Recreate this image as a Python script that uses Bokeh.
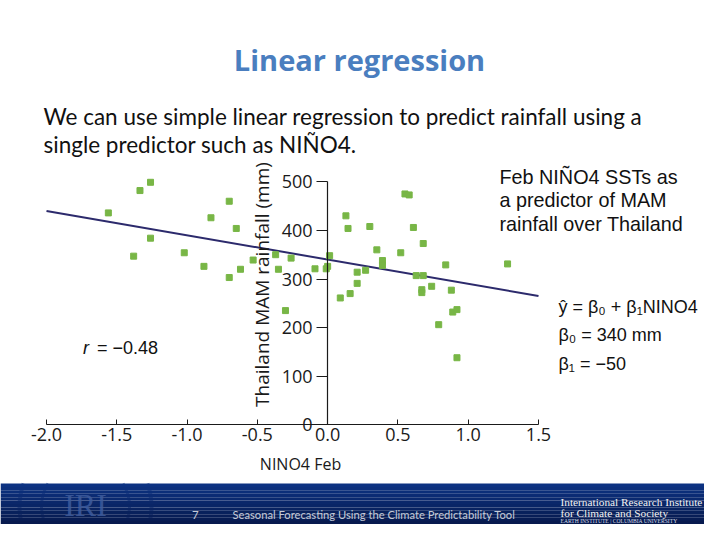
import math
from bokeh.plotting import figure
from bokeh.models import (Range1d, LinearAxis, FixedTicker, NumeralTickFormatter,
                          Label, BoxAnnotation)
from bokeh.embed import file_html
from bokeh.resources import INLINE

# ---------------- data ----------------
nino4_feb = [-1.56, -1.38, -1.335, -1.26, -1.26, -1.02, -0.88, -0.83, -0.70, -0.70,
             -0.65, -0.62, -0.53, -0.37, -0.35, -0.30, -0.26, -0.09, -0.01, 0.00,
             0.014, 0.09, 0.13, 0.145, 0.16, 0.21, 0.21, 0.27, 0.30, 0.35,
             0.39, 0.39, 0.52, 0.55, 0.58, 0.61, 0.63, 0.68, 0.68, 0.67,
             0.67, 0.74, 0.79, 0.84, 0.88, 0.89, 0.92, 0.92, 1.28]
rain_mam = [436, 347, 482, 499, 384, 354, 326, 426, 460, 303,
            404, 320, 339, 350, 320, 235, 343, 321, 321, 326,
            348, 261, 430, 404, 270, 314, 291, 318, 408, 360,
            338, 328, 354, 475, 473, 406, 307, 373, 307, 278,
            272, 285, 206, 329, 277, 232, 237, 138, 331]
beta0 = 340
beta1 = -50
r_value = -0.48
fit_x = [-2.0, 1.5]
x_ticks = [-2.0, -1.5, -1.0, -0.5, 0.0, 0.5, 1.0, 1.5]
y_ticks = [0, 100, 200, 300, 400, 500]

title_text = "Linear regression"
body_lines = ["We can use simple linear regression to predict rainfall using a",
              "single predictor such as NIÑO4."]
note_lines = ["Feb NIÑO4 SSTs as", "a predictor of MAM", "rainfall over Thailand"]
eq_lines = ["ŷ = β₀ + β₁NINO4", "β₀ = 340 mm", "β₁ = −50"]
x_title = "NINO4 Feb"
y_title = "Thailand MAM rainfall (mm)"

# ---------------- layout calibration ----------------
W, H = 704, 524
OX, OY = 0, 0
SX = (538 - 46) / 3.5           # px per x unit
SY = (424.3 - 181.3) / 500.0    # px per mm
XMIN = -2.0 - (46 - OX) / SX
XMAX = XMIN + W / SX
YMAX = 500 + (181.3 - OY) / SY
YMIN = YMAX - H / SY


def dx(X):
    return XMIN + (X - OX) / W * (XMAX - XMIN)


def dy(Y):
    return YMAX - (Y - OY) / H * (YMAX - YMIN)


p = figure(width=W, height=H, x_range=Range1d(XMIN, XMAX), y_range=Range1d(YMIN, YMAX),
           x_axis_type=None, y_axis_type=None, min_border=0,
           output_backend="svg", toolbar_location=None)
p.outline_line_color = None
p.background_fill_color = "white"
p.border_fill_color = "white"

TICK_FONT = "Open Sans"

xaxis = LinearAxis(fixed_location=0, bounds=(-2.0, 1.5),
                   ticker=FixedTicker(ticks=x_ticks),
                   formatter=NumeralTickFormatter(format="0.0"),
                   major_tick_in=5, major_tick_out=0,
                   minor_tick_in=0, minor_tick_out=0,
                   major_label_standoff=3,
                   major_label_text_font=TICK_FONT,
                   major_label_text_font_size="18px",
                   major_label_text_color="#1a1a1a",
                   axis_line_color="#1a1a1a", major_tick_line_color="#1a1a1a",
                   axis_line_width=1.2)
p.add_layout(xaxis, "below")

yaxis = LinearAxis(fixed_location=0, bounds=(0, 500),
                   ticker=FixedTicker(ticks=y_ticks),
                   major_tick_in=0, major_tick_out=11,
                   minor_tick_in=0, minor_tick_out=0,
                   major_label_standoff=4,
                   major_label_text_font=TICK_FONT,
                   major_label_text_font_size="18px",
                   major_label_text_color="#1a1a1a",
                   axis_line_color="#1a1a1a", major_tick_line_color="#1a1a1a",
                   axis_line_width=1.2)
p.add_layout(yaxis, "left")

# regression line from the coefficients
fit_y = [beta0 + beta1 * v for v in fit_x]
p.line(fit_x, fit_y, line_color="#2c2a6c", line_width=2)

# observations
p.scatter(nino4_feb, rain_mam, marker="square", size=6,
          fill_color="#78b646", line_color="#78b646")

# axis titles
p.add_layout(Label(x=dx(300), y=dy(463), text=x_title, text_align="center",
                   text_baseline="middle", text_font=TICK_FONT,
                   text_font_size="16px", text_color="#1a1a1a"))
p.add_layout(Label(x=dx(261), y=dy(284), text=y_title, angle=math.pi / 2,
                   text_align="center", text_baseline="middle", text_font=TICK_FONT,
                   text_font_size="19px", text_color="#1a1a1a"))

# r value
p.add_layout(Label(x=dx(82.5), y=dy(347.5), text="r", text_font="Liberation Sans",
                   text_font_style="italic", text_font_size="18px",
                   text_baseline="alphabetic", text_color="#111111"))
p.add_layout(Label(x=dx(96.5), y=dy(347.5), text="= \u2212%.2f" % abs(r_value),
                   text_font="Liberation Sans", text_font_size="18px",
                   text_baseline="alphabetic", text_color="#111111"))

# slide title and body
p.add_layout(Label(x=dx(359), y=dy(58.5), text=title_text, text_align="center",
                   text_baseline="alphabetic", text_font="Open Sans",
                   text_font_style="bold", text_font_size="29px", text_color="#4a7ebf"))
for i, line in enumerate(body_lines):
    p.add_layout(Label(x=dx(43), y=dy(116 + 27.5 * i), text=line,
                       text_baseline="alphabetic", text_font="Lato",
                       text_font_size="22.5px", text_color="#111111"))

# side note
for i, line in enumerate(note_lines):
    p.add_layout(Label(x=dx(499), y=dy(176 + 23.7 * i), text=line,
                       text_baseline="alphabetic", text_font="Liberation Sans",
                       text_font_size="19.8px", text_color="#111111"))

# equations
for i, line in enumerate(eq_lines):
    p.add_layout(Label(x=dx(558), y=dy(306.5 + 28.3 * i), text=line,
                       text_baseline="alphabetic", text_font="Liberation Sans",
                       text_font_size="18px", text_color="#111111"))

# ---------------- footer band ----------------
band_top = 483
band_bot = 524
n_strips = 12
c0 = (12, 50, 130)
c1 = (7, 26, 78)
for k in range(n_strips):
    t = k / (n_strips - 1)
    col = "#%02x%02x%02x" % tuple(int(round(a + (b - a) * t)) for a, b in zip(c0, c1))
    y_a = band_top + (band_bot - band_top) * k / n_strips
    y_b = band_top + (band_bot - band_top) * (k + 1) / n_strips
    p.add_layout(BoxAnnotation(left=XMIN, right=XMAX, top=dy(y_a), bottom=dy(y_b),
                               fill_color=col, fill_alpha=1.0, line_color=None))

# IRI logo (decoration)
lcx, lcy = 85, 506
cx, cy = dx(lcx), dy(lcy)
up_outer = math.asin((lcy - band_top) / 66)
up_inner = math.asin((lcy - band_top) / 44)
p.arc(x=[cx, cx], y=[cy, cy], radius=66, radius_units="screen",
      start_angle=[-math.pi / 2, math.pi - up_outer],
      end_angle=[up_outer, 1.5 * math.pi],
      line_color="#3e5c9e", line_width=4, line_alpha=0.7)
p.arc(x=[cx, cx], y=[cy, cy], radius=44, radius_units="screen",
      start_angle=[-math.pi / 2, math.pi - up_inner],
      end_angle=[up_inner, 1.5 * math.pi],
      line_color="#3e5c9e", line_width=3, line_alpha=0.7)
p.add_layout(Label(x=cx, y=dy(504), text="IRI", text_align="center",
                   text_baseline="middle", text_font="Liberation Serif",
                   text_font_size="32px", text_color="#3e5c9e", text_alpha=0.85))

p.add_layout(Label(x=dx(191.5), y=dy(514), text="7", text_baseline="alphabetic",
                   text_font="Lato", text_font_size="11.5px", text_color="#c5cbd8"))
p.add_layout(Label(x=dx(232), y=dy(514),
                   text="Seasonal Forecasting Using the Climate Predictability Tool",
                   text_baseline="alphabetic", text_font="Lato",
                   text_font_size="11.2px", text_color="#c5cbd8"))
p.add_layout(Label(x=dx(560), y=dy(501), text="International Research Institute",
                   text_baseline="alphabetic", text_font="Liberation Serif",
                   text_font_size="11.3px", text_color="#f2f2f2"))
p.add_layout(Label(x=dx(560), y=dy(512.5), text="for Climate and Society",
                   text_baseline="alphabetic", text_font="Liberation Serif",
                   text_font_size="11.3px", text_color="#f2f2f2"))
p.add_layout(Label(x=dx(560), y=dy(520), text="EARTH INSTITUTE | COLUMBIA UNIVERSITY",
                   text_baseline="alphabetic", text_font="Liberation Serif",
                   text_font_size="5.6px", text_color="#d8dce6"))

open("out.html", "w").write(file_html(p, INLINE))
